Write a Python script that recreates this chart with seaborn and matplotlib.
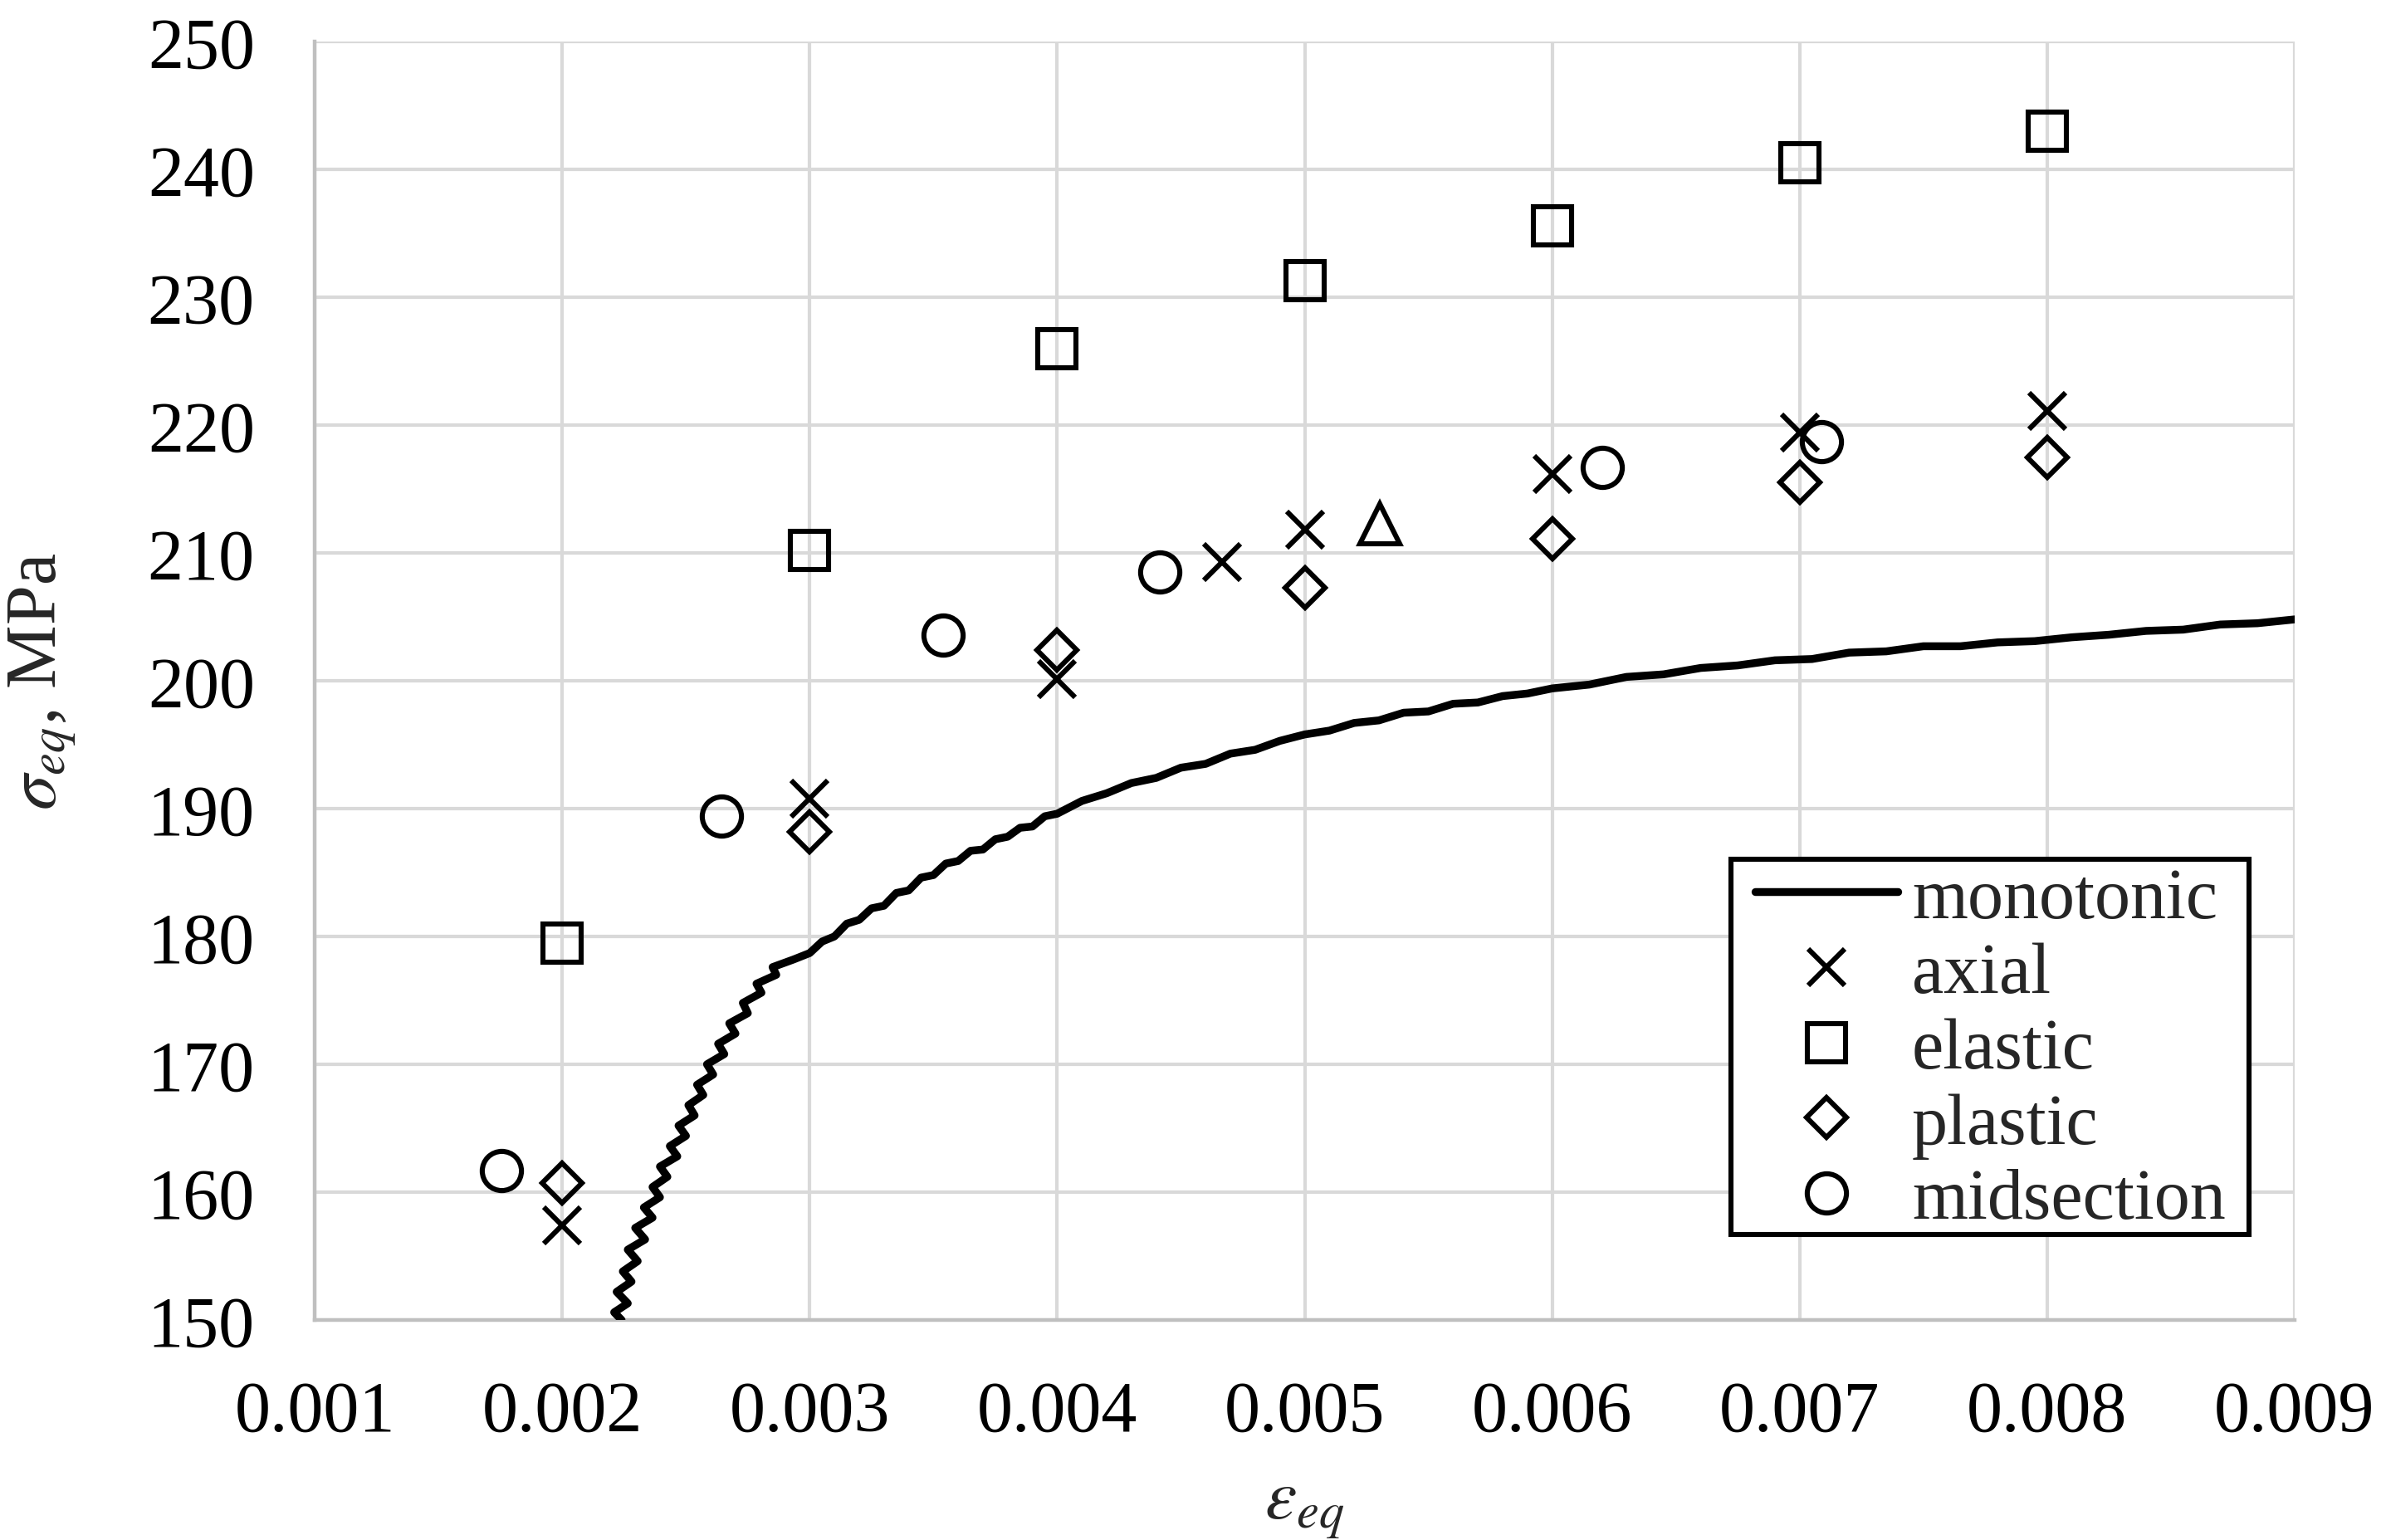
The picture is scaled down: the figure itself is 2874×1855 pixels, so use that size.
import numpy as np
import pandas as pd
import matplotlib
matplotlib.use("Agg")
import matplotlib.pyplot as plt
from matplotlib.path import Path
import seaborn as sns

# ---------------- data ----------------
mono_strain = [0.002240, 0.002210, 0.002265, 0.002220, 0.002280, 0.002245, 0.002305, 0.002265,
               0.002335, 0.002295, 0.002365, 0.002330, 0.002395, 0.002365, 0.002425, 0.002395,
               0.002465, 0.002435, 0.002500, 0.002470, 0.002535, 0.002510, 0.002570, 0.002545,
               0.002610, 0.002585, 0.002655, 0.002630, 0.002700, 0.002675, 0.002750, 0.002730,
               0.002805, 0.002785, 0.002865, 0.002850, 0.002935,
               0.00300, 0.00305, 0.00310, 0.00315, 0.00320, 0.00325, 0.00330, 0.00335, 0.00340,
               0.00345, 0.00350, 0.00355, 0.00360, 0.00365, 0.00370, 0.00375, 0.00380, 0.00385,
               0.00390, 0.00395, 0.00400, 0.00410, 0.00420, 0.00430, 0.00440, 0.00450, 0.00460,
               0.00470, 0.00480, 0.00490, 0.00500, 0.00510, 0.00520, 0.00530, 0.00540, 0.00550,
               0.00560, 0.00570, 0.00580, 0.00590, 0.00600, 0.00615, 0.00630, 0.00645, 0.00660,
               0.00675, 0.00690, 0.00705, 0.00720, 0.00735, 0.00750, 0.00765, 0.00780, 0.00795,
               0.00810, 0.00825, 0.00840, 0.00855, 0.00870, 0.00885, 0.00900]
mono_stress = [150.0, 150.6, 151.3, 152.2, 153.0, 153.8, 154.6, 155.5,
               156.3, 157.2, 158.0, 158.8, 159.6, 160.4, 161.2, 162.0,
               162.8, 163.6, 164.4, 165.2, 166.0, 166.8, 167.6, 168.4,
               169.2, 170.0, 170.8, 171.6, 172.4, 173.2, 174.0, 174.8,
               175.6, 176.3, 177.0, 177.6, 178.2,
               178.7, 179.6, 180.0, 181.0, 181.3, 182.2, 182.4, 183.4, 183.6,
               184.6, 184.8, 185.7, 185.9, 186.7, 186.8, 187.6, 187.8, 188.5,
               188.6, 189.4, 189.6, 190.6, 191.2, 192.0, 192.4, 193.2, 193.5,
               194.3, 194.6, 195.3, 195.8, 196.1, 196.7, 196.9, 197.5, 197.6,
               198.2, 198.3, 198.8, 199.0, 199.4, 199.7, 200.3, 200.5, 201.0,
               201.2, 201.6, 201.7, 202.2, 202.3, 202.7, 202.7, 203.0, 203.1,
               203.4, 203.6, 203.9, 204.0, 204.4, 204.5, 204.8]

axial_strain = [0.002, 0.003, 0.004, 0.004665, 0.005, 0.006, 0.007, 0.008]
axial_stress = [157.4, 190.8, 200.1, 209.3, 211.8, 216.2, 219.4, 221.1]

elastic_strain = [0.002, 0.003, 0.004, 0.005, 0.006, 0.007, 0.008]
elastic_stress = [179.5, 210.2, 226.0, 231.3, 235.6, 240.5, 243.0]

plastic_strain = [0.002, 0.003, 0.004, 0.005, 0.006, 0.007, 0.008]
plastic_stress = [160.7, 188.2, 202.4, 207.3, 211.1, 215.5, 217.5]

mid_strain = [0.001756, 0.002642, 0.003540, 0.004413, 0.006203, 0.007089]
mid_stress = [161.7, 189.4, 203.6, 208.5, 216.7, 218.7]

extra_strain = [0.005305]
extra_stress = [212.3]

x_ticks = [0.001, 0.002, 0.003, 0.004, 0.005, 0.006, 0.007, 0.008, 0.009]
x_ticklabels = ["0.001", "0.002", "0.003", "0.004", "0.005", "0.006", "0.007", "0.008", "0.009"]
y_ticks = [150, 160, 170, 180, 190, 200, 210, 220, 230, 240, 250]

# ---------------- styling ----------------
sns.set_theme(style="white")
plt.rcParams["font.family"] = ["Liberation Serif", "DejaVu Serif"]
plt.rcParams["mathtext.fontset"] = "stix"

FS = 31
fig = plt.figure(figsize=(14.37, 9.28), dpi=200)
ax = fig.add_axes([0.1319, 0.1428, 0.9617 - 0.1319, 0.9725 - 0.1428])

mono = pd.DataFrame({"strain": mono_strain, "stress": mono_stress})
sns.lineplot(data=mono, x="strain", y="stress", sort=False, estimator=None,
             color="black", linewidth=3.4, ax=ax, label="monotonic", zorder=3)

common = dict(linestyle="", color="black", markeredgecolor="black",
              markeredgewidth=2.2, estimator=None, sort=False, ax=ax, zorder=4)

sns.lineplot(x=axial_strain, y=axial_stress, marker="x", markersize=16,
             label="axial", **common)
sns.lineplot(x=elastic_strain, y=elastic_stress, marker="s", markersize=16.5,
             markerfacecolor="none", label="elastic", **common)
sns.lineplot(x=plastic_strain, y=plastic_stress, marker="D", markersize=12,
             markerfacecolor="none", label="plastic", **common)
sns.lineplot(x=mid_strain, y=mid_stress, marker="o", markersize=17,
             markerfacecolor="none", label="midsection", **common)
sns.lineplot(x=extra_strain, y=extra_stress, marker="^", markersize=17,
             markerfacecolor="none", label="_nolegend_", **common)

ax.set_xlim(0.001, 0.009)
ax.set_ylim(150, 250)
ax.set_xticks(x_ticks)
ax.set_xticklabels(x_ticklabels)
ax.set_yticks(y_ticks)
ax.tick_params(axis="both", length=0, labelsize=FS, pad=26, colors="black")

ax.grid(True, color="#d9d9d9", linewidth=1.5)
ax.set_axisbelow(True)
for s in ["top", "right"]:
    ax.spines[s].set_visible(False)
for s in ["left", "bottom"]:
    ax.spines[s].set_color("#bfbfbf")
    ax.spines[s].set_linewidth(1.6)

ax.set_xlabel(r"$\varepsilon_{eq}$", fontsize=FS, labelpad=12)
ax.set_ylabel(r"$\sigma_{eq}$, MPa", fontsize=FS, labelpad=30)

leg = ax.legend(loc="upper left", bbox_to_anchor=(0.7342, 0.4388),
                bbox_transform=fig.transFigure, borderaxespad=0,
                fontsize=FS, frameon=True, fancybox=False, edgecolor="black",
                framealpha=1, labelspacing=0.13, handlelength=2.0,
                handletextpad=0.2, borderpad=0.04)


def wide_box(x0, y0, width, height, mutation_size):
    # frame with extra horizontal padding and a slightly raised top
    px = 0.29 * mutation_size
    top = y0 + height + 0.064 * mutation_size
    bot = y0 + 0.03 * mutation_size
    return Path([(x0 - px, bot), (x0 + width + px, bot), (x0 + width + px, top),
                 (x0 - px, top), (x0 - px, bot)], closed=True)


leg.get_frame().set_boxstyle(wide_box)
leg.get_frame().set_linewidth(2.2)

fig.savefig("out.png", dpi=200)
